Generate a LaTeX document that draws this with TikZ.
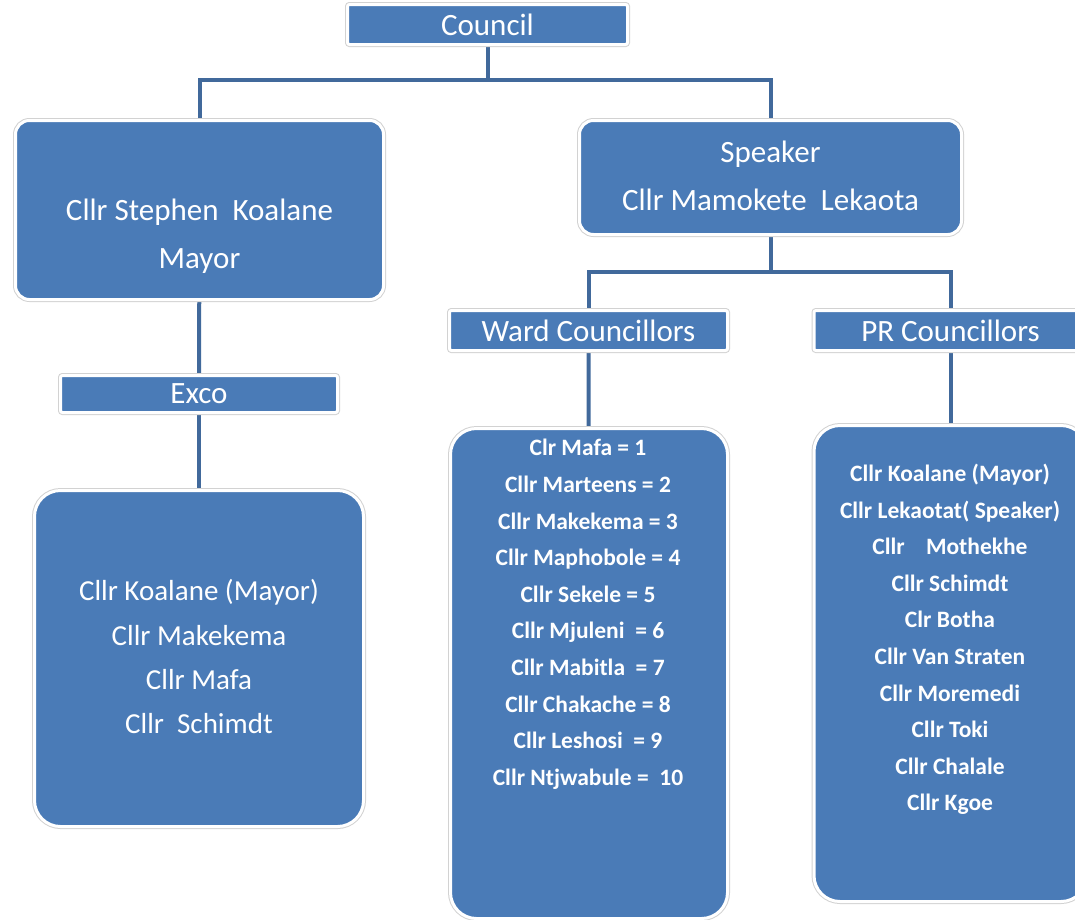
\documentclass[tikz,border=0pt]{standalone}
\usepackage{fontspec}
\setmainfont{Carlito}
\usetikzlibrary{backgrounds}
\definecolor{boxblue}{HTML}{4A7BB7}
\definecolor{linkblue}{HTML}{41699B}
\definecolor{rimgray}{HTML}{D2D2D2}
\tikzset{
  orgbox/.style={fill=boxblue, draw=white, line width=3pt,
    preaction={draw=rimgray, line width=5pt}, inner sep=0pt, text=white},
  headbox/.style={orgbox, rounded corners=2pt, font=\fontsize{31}{36}\selectfont},
  bigbox/.style={orgbox, rounded corners=14pt},
  listbox/.style={orgbox, rounded corners=26pt},
  link/.style={draw=linkblue, line width=4pt},
  bigtext/.style={text=white, align=center, inner sep=0pt, font=\fontsize{31}{48}\selectfont},
  excotext/.style={text=white, align=center, inner sep=0pt, font=\fontsize{29}{44.3}\selectfont},
  listtext/.style={text=white, align=center, inner sep=0pt, font=\bfseries\fontsize{23.5}{36.6}\selectfont},
}
\begin{document}
\begin{tikzpicture}[x=1pt, y=-1pt]
\useasboundingbox (0,0) rectangle (1075,919);
\clip (0,0) rectangle (1075,919);

% boxes
\node[headbox, minimum width=280, minimum height=40] (council) at (487.5,24.5) {Council};
\node[bigbox, minimum width=368, minimum height=179] (mayor) at (199.5,210) {};
\node[bigbox, minimum width=382, minimum height=114] (speaker) at (770.5,177.5) {};
\node[headbox, minimum width=277, minimum height=37] (exco) at (199,394) {Exco};
\node[listbox, minimum width=329, minimum height=336] (excolist) at (199,658.5) {};
\node[headbox, minimum width=278, minimum height=40] (ward) at (588.5,330.5) {Ward Councillors};
\node[headbox, minimum width=273, minimum height=40] (pr) at (950.5,330.5) {PR Councillors};
\node[listbox, minimum width=277, minimum height=490] (wardlist) at (589,673.5) {};
\node[listbox, minimum width=273, minimum height=476] (prlist) at (950.5,663.5) {};

% texts
\node[bigtext] (mayortxt) at (199.5,236.5) {Cllr Stephen\ \ Koalane\\Mayor};
\node[bigtext] (speakertxt) at (770.5,175.5) {Speaker\\Cllr Mamokete\ \ Lekaota};
\node[excotext] (excotxt) at (199,656.7) {Cllr Koalane (Mayor)\\Cllr Makekema\\Cllr Mafa\\Cllr\ \ Schimdt};
\node[listtext] (wardtxt) at (588,614.3) {Clr Mafa = 1\\Cllr Marteens = 2\\Cllr Makekema = 3\\Cllr Maphobole = 4\\Cllr Sekele = 5\\Cllr Mjuleni\ \ = 6\\Cllr Mabitla\ \ = 7\\Cllr Chakache = 8\\Cllr Leshosi\ \ = 9\\Cllr Ntjwabule =\ \ 10};
\node[listtext] (prtxt) at (950,639.5) {Cllr Koalane (Mayor)\\Cllr Lekaotat( Speaker)\\Cllr\ \ \ \ Mothekhe\\Cllr Schimdt\\Clr Botha\\Cllr Van Straten\\Cllr Moremedi\\Cllr Toki\\Cllr Chalale\\Cllr Kgoe};

% connectors
\coordinate (j1) at (487.5,80);
\coordinate (j2) at (770.5,272);
\begin{pgfonlayer}{background}
\draw[link] (council) -- (j1);
\draw[link] (j1) -| (mayor);
\draw[link] (j1) -| (speaker);
\draw[link] (mayor) -- (exco);
\draw[link] (exco) -- (excolist);
\draw[link] (speaker) -- (j2);
\draw[link] (j2) -| (ward);
\draw[link] (j2) -| (pr);
\draw[link] (ward) -- (wardlist);
\draw[link] (pr) -- (prlist);
\end{pgfonlayer}
\end{tikzpicture}
\end{document}
